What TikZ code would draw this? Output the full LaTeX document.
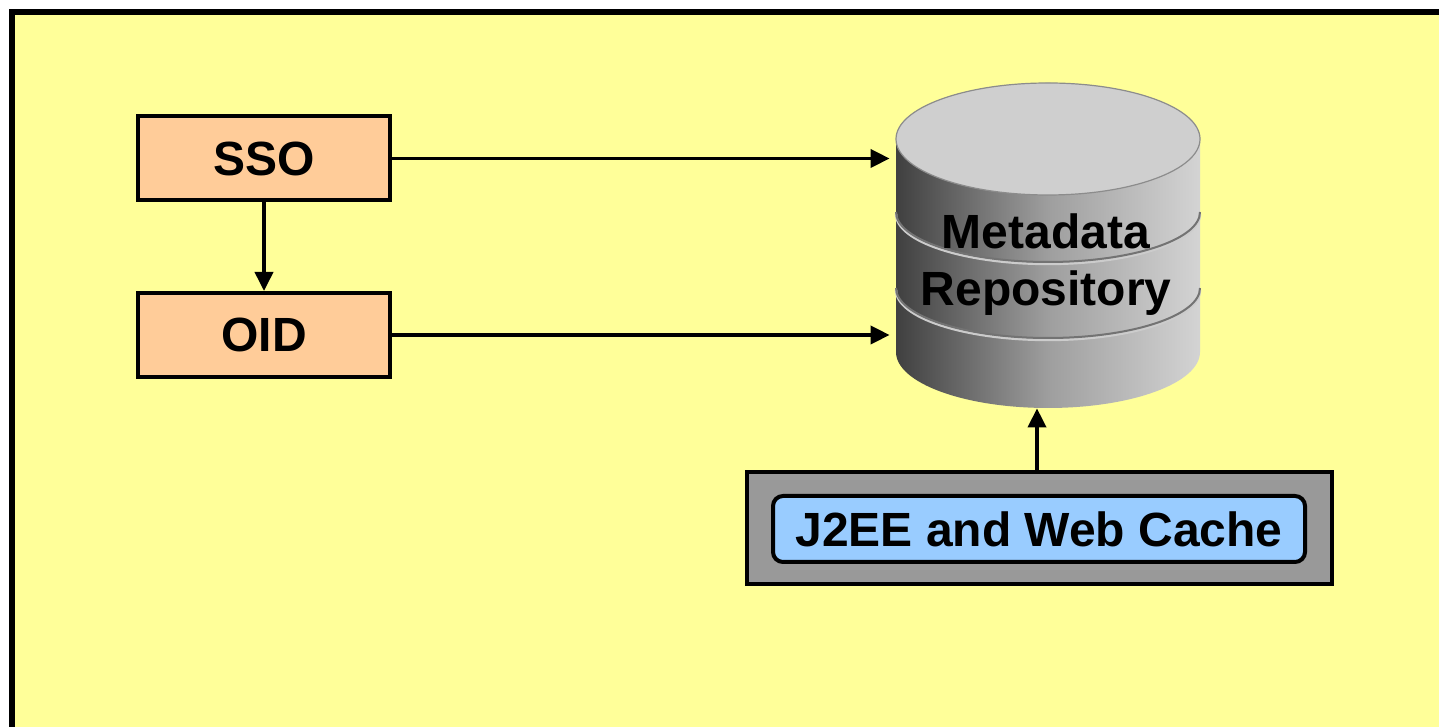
\documentclass[tikz,border=0pt]{standalone}
\usepackage{fontspec}
\setmainfont{Liberation Sans}
\usetikzlibrary{arrows.meta}
\definecolor{bgyellow}{HTML}{FFFF99}
\definecolor{boxorange}{HTML}{FFCC99}
\definecolor{boxgray}{HTML}{999999}
\definecolor{boxblue}{HTML}{99CCFF}
\tikzset{
  lbl/.style={font=\fontsize{24}{28.5}\selectfont\bfseries, text=black},
  compbox/.style={lbl, draw=black, line width=2pt, fill=boxorange, minimum width=126pt, minimum height=42pt, inner sep=0pt},
  conn/.style={draw=black, line width=1.9pt, -{Triangle[length=9.5pt,width=9pt]}},
}
\begin{document}
\begin{tikzpicture}[x=0.5pt,y=0.5pt]
\useasboundingbox (0,0) rectangle (1439,727);
\clip (0,0) rectangle (1439,727);
\fill[white] (0,0) rectangle (1439,727);
\draw[line width=3pt, fill=bgyellow] (12,715) rectangle (1460,-20);

% nodes
\node[compbox] (sso) at (264,568.5) {SSO};
\node[compbox] (oid) at (264,392) {OID};

% cylinder
\shade[left color=black!75, right color=black!17, middle color=black!38]
  (896,588) -- (896,375) arc[start angle=180, end angle=360, x radius=152, y radius=56]
  -- (1200,588) arc[start angle=0, end angle=180, x radius=152, y radius=56] -- cycle;
\fill[black!19] (1048,588) ellipse[x radius=152, y radius=56];
\draw[black!45, line width=0.6pt] (1048,588) ellipse[x radius=152, y radius=56];
\draw[white!80!black, line width=1.2pt] (896,513) arc[start angle=180, end angle=360, x radius=152, y radius=50];
\draw[black!55, line width=1pt] (896,515) arc[start angle=180, end angle=360, x radius=152, y radius=50];
\draw[white!80!black, line width=1.2pt] (896,437) arc[start angle=180, end angle=360, x radius=152, y radius=50];
\draw[black!55, line width=1pt] (896,439) arc[start angle=180, end angle=360, x radius=152, y radius=50];
\node[minimum width=152pt, minimum height=162.5pt, inner sep=0pt] (db) at (1048,481.5) {};
\node[lbl, align=center] (dbtext) at (1046,462.5) {Metadata\\Repository};

% J2EE box
\node[draw=black, line width=2.2pt, fill=boxgray, minimum width=292.5pt, minimum height=56pt, inner sep=0pt] (gray) at (1039.5,199) {};
\node[lbl, draw=black, line width=2pt, fill=boxblue, rounded corners=5pt, minimum width=266pt, minimum height=33pt, inner sep=0pt] (j2ee) at (1039,198) {J2EE and Web Cache};

% connectors
\draw[conn] (sso.south) -- (oid.north);
\draw[conn, shorten >=3pt] (sso.east) -- (db.west |- sso.east);
\draw[conn, shorten >=3pt] (oid.east) -- (db.west |- oid.east);
\draw[conn] ([xshift=-1.25pt]gray.north) -- ([xshift=-1.25pt]gray.north |- db.south);
\end{tikzpicture}
\end{document}
